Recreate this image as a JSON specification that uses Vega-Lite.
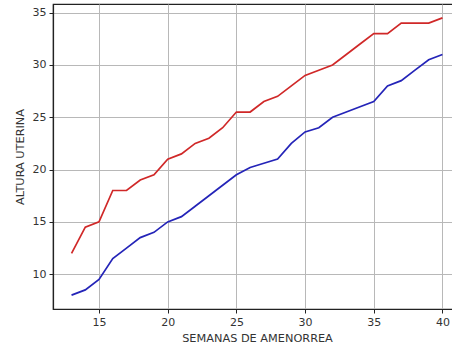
{
  "$schema": "https://vega.github.io/schema/vega-lite/v6.json",
  "width": 408,
  "height": 305,
  "autosize": {"type": "none"},
  "padding": {"left": 53, "top": 4, "right": 0, "bottom": 40},
  "background": "white",
  "config": {
    "font": "DejaVu Sans",
    "view": {"stroke": "#222222", "strokeWidth": 1.2},
    "axis": {
      "grid": true,
      "gridColor": "#b8b8b8",
      "gridWidth": 1,
      "domainColor": "#222222",
      "domainWidth": 1.2,
      "tickColor": "#222222",
      "tickSize": 4,
      "labelFontSize": 11,
      "labelColor": "#333333",
      "labelPadding": 3,
      "titleFontSize": 11.3,
      "titleFontWeight": "normal",
      "titleColor": "#333333"
    }
  },
  "data": {
    "values": [
      {"semana": 13, "altura": 12, "serie": "max"},
      {"semana": 14, "altura": 14.5, "serie": "max"},
      {"semana": 15, "altura": 15, "serie": "max"},
      {"semana": 16, "altura": 18, "serie": "max"},
      {"semana": 17, "altura": 18, "serie": "max"},
      {"semana": 18, "altura": 19, "serie": "max"},
      {"semana": 19, "altura": 19.5, "serie": "max"},
      {"semana": 20, "altura": 21, "serie": "max"},
      {"semana": 21, "altura": 21.5, "serie": "max"},
      {"semana": 22, "altura": 22.5, "serie": "max"},
      {"semana": 23, "altura": 23, "serie": "max"},
      {"semana": 24, "altura": 24, "serie": "max"},
      {"semana": 25, "altura": 25.5, "serie": "max"},
      {"semana": 26, "altura": 25.5, "serie": "max"},
      {"semana": 27, "altura": 26.5, "serie": "max"},
      {"semana": 28, "altura": 27, "serie": "max"},
      {"semana": 29, "altura": 28, "serie": "max"},
      {"semana": 30, "altura": 29, "serie": "max"},
      {"semana": 31, "altura": 29.5, "serie": "max"},
      {"semana": 32, "altura": 30, "serie": "max"},
      {"semana": 33, "altura": 31, "serie": "max"},
      {"semana": 34, "altura": 32, "serie": "max"},
      {"semana": 35, "altura": 33, "serie": "max"},
      {"semana": 36, "altura": 33, "serie": "max"},
      {"semana": 37, "altura": 34, "serie": "max"},
      {"semana": 38, "altura": 34, "serie": "max"},
      {"semana": 39, "altura": 34, "serie": "max"},
      {"semana": 40, "altura": 34.5, "serie": "max"},
      {"semana": 13, "altura": 8, "serie": "min"},
      {"semana": 14, "altura": 8.5, "serie": "min"},
      {"semana": 15, "altura": 9.5, "serie": "min"},
      {"semana": 16, "altura": 11.5, "serie": "min"},
      {"semana": 17, "altura": 12.5, "serie": "min"},
      {"semana": 18, "altura": 13.5, "serie": "min"},
      {"semana": 19, "altura": 14, "serie": "min"},
      {"semana": 20, "altura": 15, "serie": "min"},
      {"semana": 21, "altura": 15.5, "serie": "min"},
      {"semana": 22, "altura": 16.5, "serie": "min"},
      {"semana": 23, "altura": 17.5, "serie": "min"},
      {"semana": 24, "altura": 18.5, "serie": "min"},
      {"semana": 25, "altura": 19.5, "serie": "min"},
      {"semana": 26, "altura": 20.2, "serie": "min"},
      {"semana": 27, "altura": 20.6, "serie": "min"},
      {"semana": 28, "altura": 21, "serie": "min"},
      {"semana": 29, "altura": 22.5, "serie": "min"},
      {"semana": 30, "altura": 23.6, "serie": "min"},
      {"semana": 31, "altura": 24, "serie": "min"},
      {"semana": 32, "altura": 25, "serie": "min"},
      {"semana": 33, "altura": 25.5, "serie": "min"},
      {"semana": 34, "altura": 26, "serie": "min"},
      {"semana": 35, "altura": 26.5, "serie": "min"},
      {"semana": 36, "altura": 28, "serie": "min"},
      {"semana": 37, "altura": 28.5, "serie": "min"},
      {"semana": 38, "altura": 29.5, "serie": "min"},
      {"semana": 39, "altura": 30.5, "serie": "min"},
      {"semana": 40, "altura": 31, "serie": "min"}
    ]
  },
  "mark": {"type": "line", "strokeWidth": 1.7, "clip": true},
  "encoding": {
    "x": {
      "field": "semana",
      "type": "quantitative",
      "scale": {"domain": [11.65, 41.35], "nice": false, "zero": false},
      "axis": {"values": [15, 20, 25, 30, 35, 40], "title": "SEMANAS DE AMENORREA", "titlePadding": 5}
    },
    "y": {
      "field": "altura",
      "type": "quantitative",
      "scale": {"domain": [6.675, 35.825], "nice": false, "zero": false},
      "axis": {"values": [10, 15, 20, 25, 30, 35], "title": "ALTURA UTERINA", "titlePadding": 7}
    },
    "color": {
      "field": "serie",
      "type": "nominal",
      "scale": {"domain": ["max", "min"], "range": ["#d02828", "#2424b8"]},
      "legend": null
    }
  }
}
